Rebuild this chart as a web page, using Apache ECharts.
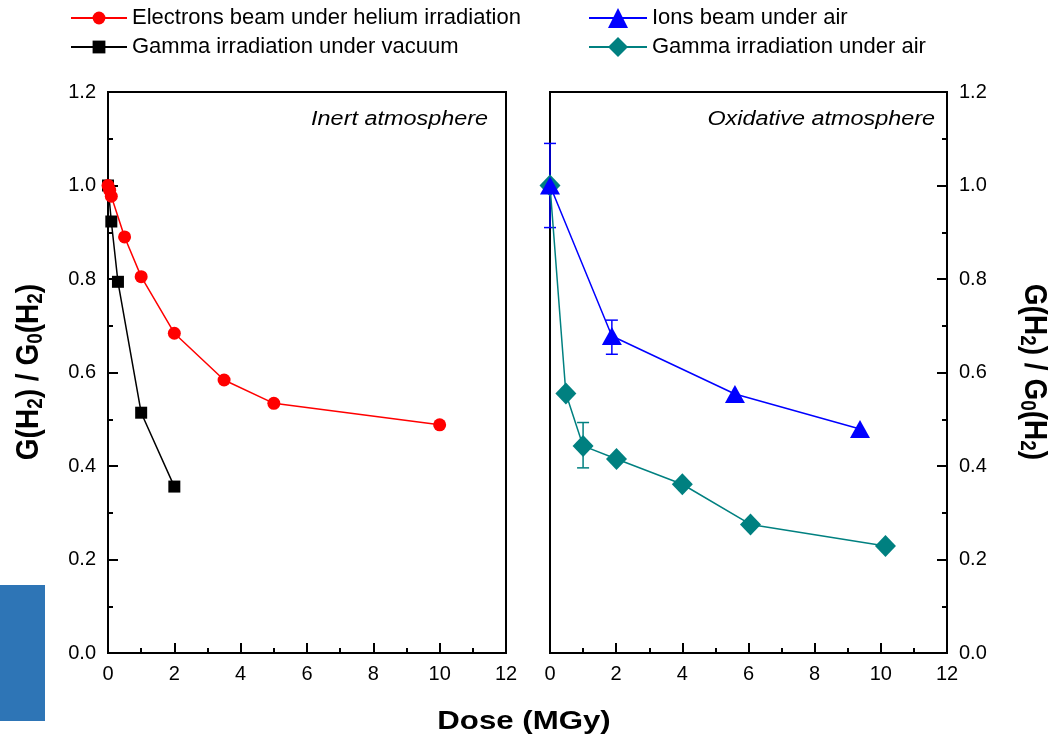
<!DOCTYPE html>
<html>
<head>
<meta charset="utf-8">
<script src="https://cdn.jsdelivr.net/npm/echarts@6/dist/echarts.min.js"></script>
<style>
html,body{margin:0;padding:0;background:#fff;}
#chart{width:1053px;height:740px;}
</style>
</head>
<body>
<div id="chart"></div>
<script>
// ---- data ----
const seriesNames = [
  'Electrons beam under helium irradiation',
  'Gamma irradiation under vacuum',
  'Ions beam under air',
  'Gamma irradiation under air'
];
const electronsHelium = [[0,1.0],[0.05,0.99],[0.1,0.977],[0.5,0.89],[1,0.805],[2,0.684],[3.5,0.584],[5,0.534],[10,0.488]];
const gammaVacuum = [[0,1.0],[0.1,0.923],[0.3,0.794],[1,0.514],[2,0.356]];
const ionsAir = [[0,1.0],[1.87,0.678],[5.59,0.554],[9.37,0.479]];
const gammaAir = [[0,1.0],[0.48,0.555],[1.0,0.443],[2.01,0.415],[4.0,0.361],[6.06,0.275],[10.14,0.229]];
// error bars: [x, low, high]
const ionsAirErr = [[0,0.91,1.09],[1.87,0.639,0.712]];
const gammaAirErr = [[1.0,0.396,0.493]];
const xTicks = [0,2,4,6,8,10,12];
const yTicks = [0,0.2,0.4,0.6,0.8,1.0,1.2];
const panelLabels = ['Inert atmosphere','Oxidative atmosphere'];
const xTitle = 'Dose (MGy)';

const FONT = '"Liberation Sans", Arial, sans-serif';
const chart = echarts.init(document.getElementById('chart'), null, {renderer:'canvas'});

function errRender(color){
  return function(params, api){
    const x = api.value(0), lo = api.value(1), hi = api.value(2);
    const p1 = api.coord([x, hi]), p2 = api.coord([x, lo]);
    const w = 6;
    const st = {stroke: color, lineWidth: 1.5};
    return {type:'group', children:[
      {type:'line', shape:{x1:p1[0], y1:p1[1], x2:p2[0], y2:p2[1]}, style:st},
      {type:'line', shape:{x1:p1[0]-w, y1:p1[1], x2:p1[0]+w, y2:p1[1]}, style:st},
      {type:'line', shape:{x1:p2[0]-w, y1:p2[1], x2:p2[0]+w, y2:p2[1]}, style:st}
    ]};
  };
}

const axisLabelStyle = {color:'#000', fontFamily: FONT, fontSize: 20};
function xAxisDef(gi){
  return {
    type:'value', gridIndex: gi, min: xTicks[0], max: xTicks[xTicks.length-1], interval: 2,
    axisLine:{show:true, onZero:false, lineStyle:{color:'#000', width:2}},
    axisTick:{show:true, inside:true, length:10, lineStyle:{color:'#000', width:2}},
    minorTick:{show:true, splitNumber:2, length:5, lineStyle:{color:'#000', width:2}},
    splitLine:{show:false},
    axisLabel:{...axisLabelStyle, margin:11}
  };
}
function yAxisDef(gi, pos){
  return {
    type:'value', gridIndex: gi, position: pos, min: yTicks[0], max: yTicks[yTicks.length-1], interval: 0.2,
    axisLine:{show:true, onZero:false, lineStyle:{color:'#000', width:2}},
    axisTick:{show:true, inside:true, length:10, lineStyle:{color:'#000', width:2}},
    minorTick:{show:true, splitNumber:2, length:5, lineStyle:{color:'#000', width:2}},
    splitLine:{show:false},
    axisLabel:{...axisLabelStyle, margin:12, formatter: v => v.toFixed(1)}
  };
}

const rich = {
  n:{fontFamily:FONT, fontWeight:'bold', fontSize:28, color:'#000', lineHeight:34},
  s:{fontFamily:FONT, fontWeight:'bold', fontSize:19, color:'#000', lineHeight:34, padding:[13,0,0,0]}
};
const yTitleText = '{n|G(H}{s|2}{n|) / G}{s|0}{n|(H}{s|2}{n|)}';
const legendText = {fontFamily:FONT, fontSize:22, color:'#000'};

const option = {
  animation:false,
  backgroundColor:'#fff',
  grid:[
    {left:108, top:92, width:398, height:561, show:true, borderColor:'#000', borderWidth:2, backgroundColor:'transparent'},
    {left:550, top:92, width:397, height:561, show:true, borderColor:'#000', borderWidth:2, backgroundColor:'transparent'}
  ],
  xAxis:[xAxisDef(0), xAxisDef(1)],
  yAxis:[yAxisDef(0,'left'), yAxisDef(1,'right')],
  legend:[
    {data:[seriesNames[0], seriesNames[1]], orient:'vertical', left:70, top:7, padding:0, itemWidth:56, itemHeight:16, itemGap:7,
     textStyle:legendText, selectedMode:false},
    {data:[seriesNames[2], seriesNames[3]], orient:'vertical', left:588, top:7, padding:0, itemWidth:58, itemHeight:25, itemGap:7,
     textStyle:legendText, selectedMode:false}
  ],
  series:[
    {type:'custom', name:'err1', xAxisIndex:1, yAxisIndex:1, data: ionsAirErr, renderItem: errRender('#0000ff'), encode:{x:0, y:[1,2]}, z:1, clip:false},
    {type:'custom', name:'err2', xAxisIndex:1, yAxisIndex:1, data: gammaAirErr, renderItem: errRender('#008080'), encode:{x:0, y:[1,2]}, z:1, clip:false},
    {type:'line', name:seriesNames[1], xAxisIndex:0, yAxisIndex:0, data: gammaVacuum, symbol:'rect', symbolSize:12,
     lineStyle:{color:'#000', width:1.5}, itemStyle:{color:'#000'}, clip:false, z:2},
    {type:'line', name:seriesNames[0], xAxisIndex:0, yAxisIndex:0, data: electronsHelium, symbol:'circle', symbolSize:13,
     lineStyle:{color:'#ff0000', width:1.5}, itemStyle:{color:'#ff0000'}, clip:false, z:3},
    {type:'line', name:seriesNames[3], xAxisIndex:1, yAxisIndex:1, data: gammaAir, symbol:'diamond', symbolSize:[21,22],
     lineStyle:{color:'#008080', width:1.5}, itemStyle:{color:'#008080'}, clip:false, z:2},
    {type:'line', name:seriesNames[2], xAxisIndex:1, yAxisIndex:1, data: ionsAir, symbol:'triangle', symbolSize:[20,18],
     lineStyle:{color:'#0000ff', width:1.5}, itemStyle:{color:'#0000ff'}, clip:false, z:3}
  ],
  graphic:[
    {type:'rect', left:0, top:585, shape:{width:45, height:136}, style:{fill:'#2E75B6'}, z:0},
    {type:'text', x:488, y:119, scaleX:1.17, style:{text:panelLabels[0], align:'right', verticalAlign:'middle', font:'italic 20px '+FONT, fill:'#000'}},
    {type:'text', x:935, y:119, scaleX:1.17, style:{text:panelLabels[1], align:'right', verticalAlign:'middle', font:'italic 20px '+FONT, fill:'#000'}},
    {type:'text', x:524, y:722, scaleX:1.2, style:{text:xTitle, align:'center', verticalAlign:'middle', font:'bold 26px '+FONT, fill:'#000'}},
    {type:'text', x:29, y:372, rotation:Math.PI/2, scaleY:1.12, style:{text:yTitleText, rich:rich, align:'center', verticalAlign:'middle'}},
    {type:'text', x:1034, y:372, rotation:-Math.PI/2, scaleY:1.12, style:{text:yTitleText, rich:rich, align:'center', verticalAlign:'middle'}}
  ]
};
chart.setOption(option);
</script>
</body>
</html>
